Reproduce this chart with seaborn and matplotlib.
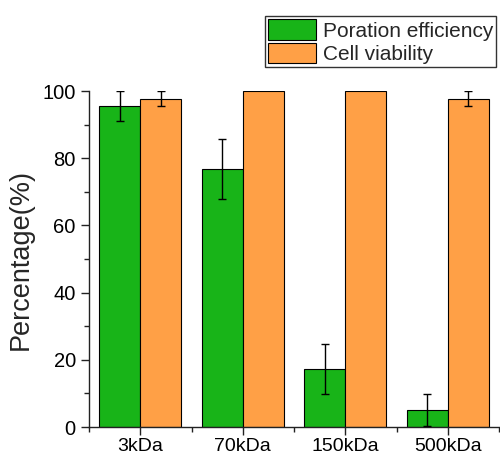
import matplotlib
matplotlib.use("Agg")
import matplotlib.pyplot as plt
import seaborn as sns
import pandas as pd
import numpy as np
from matplotlib.ticker import MultipleLocator, FixedLocator
from matplotlib.patches import Patch

categories = ["3kDa", "70kDa", "150kDa", "500kDa"]
series_names = ["Poration efficiency", "Cell viability"]
poration = [95.5, 76.8, 17.2, 5.1]
poration_err = [4.5, 8.8, 7.5, 4.7]
viability = [97.7, 100.0, 100.0, 97.7]
viability_err = [2.3, 0.0, 0.0, 2.3]

colors = ["#18b418", "#ffa046"]

sns.set_style("ticks")
plt.rcParams["font.family"] = ["Liberation Sans", "DejaVu Sans"]

df = pd.DataFrame({
    "Category": categories * 2,
    "Series": [series_names[0]] * 4 + [series_names[1]] * 4,
    "Value": poration + viability,
})

fig = plt.figure(figsize=(5.0, 4.57), dpi=100)
ax = fig.add_axes([0.178, 0.0656, 0.82, 0.7352])

sns.barplot(data=df, x="Category", y="Value", hue="Series", order=categories,
            hue_order=series_names, palette=colors, width=0.8, errorbar=None,
            edgecolor="black", linewidth=0.8, ax=ax, legend=False, saturation=1)

errs = poration_err + viability_err
vals = poration + viability
patches = [p for p in ax.patches][:8]
for p, v, e in zip(patches, vals, errs):
    if e > 0:
        xc = p.get_x() + p.get_width() / 2
        ax.errorbar(xc, v, yerr=e, fmt="none", ecolor="black", elinewidth=1.0,
                    capsize=3, capthick=1.0, zorder=5)

ax.set_xlim(-0.5, 3.5)
ax.set_ylim(0, 100)
ax.set_xlabel("")
ax.set_ylabel("Percentage(%)", fontsize=19.5, labelpad=6)
ax.yaxis.set_major_locator(MultipleLocator(20))
ax.yaxis.set_minor_locator(MultipleLocator(10))
ax.xaxis.set_minor_locator(FixedLocator([-0.5, 0.5, 1.5, 2.5, 3.5]))
ax.tick_params(axis="both", which="major", length=6, width=1, labelsize=14.5,
               direction="out", color="#222222", labelcolor="black")
ax.tick_params(axis="both", which="minor", length=3.5, width=1, direction="out", color="#222222")
ax.tick_params(axis="x", which="major", pad=2, labelsize=14)
for s in ["top", "right"]:
    ax.spines[s].set_visible(False)
for s in ["left", "bottom"]:
    ax.spines[s].set_linewidth(1.0)
    ax.spines[s].set_color("#222222")

handles = [Patch(facecolor=c, edgecolor="black", linewidth=0.8) for c in colors]
leg = fig.legend(handles, series_names, loc="upper right",
                 bbox_to_anchor=(0.992, 0.965), bbox_transform=fig.transFigure,
                 fontsize=15, frameon=True, fancybox=False, edgecolor="black",
                 handlelength=2.3, handleheight=1.15, handletextpad=0.3,
                 labelspacing=0.1, borderpad=0.15, borderaxespad=0)
leg.get_frame().set_linewidth(1.0)

fig.savefig("out.png", dpi=100)
